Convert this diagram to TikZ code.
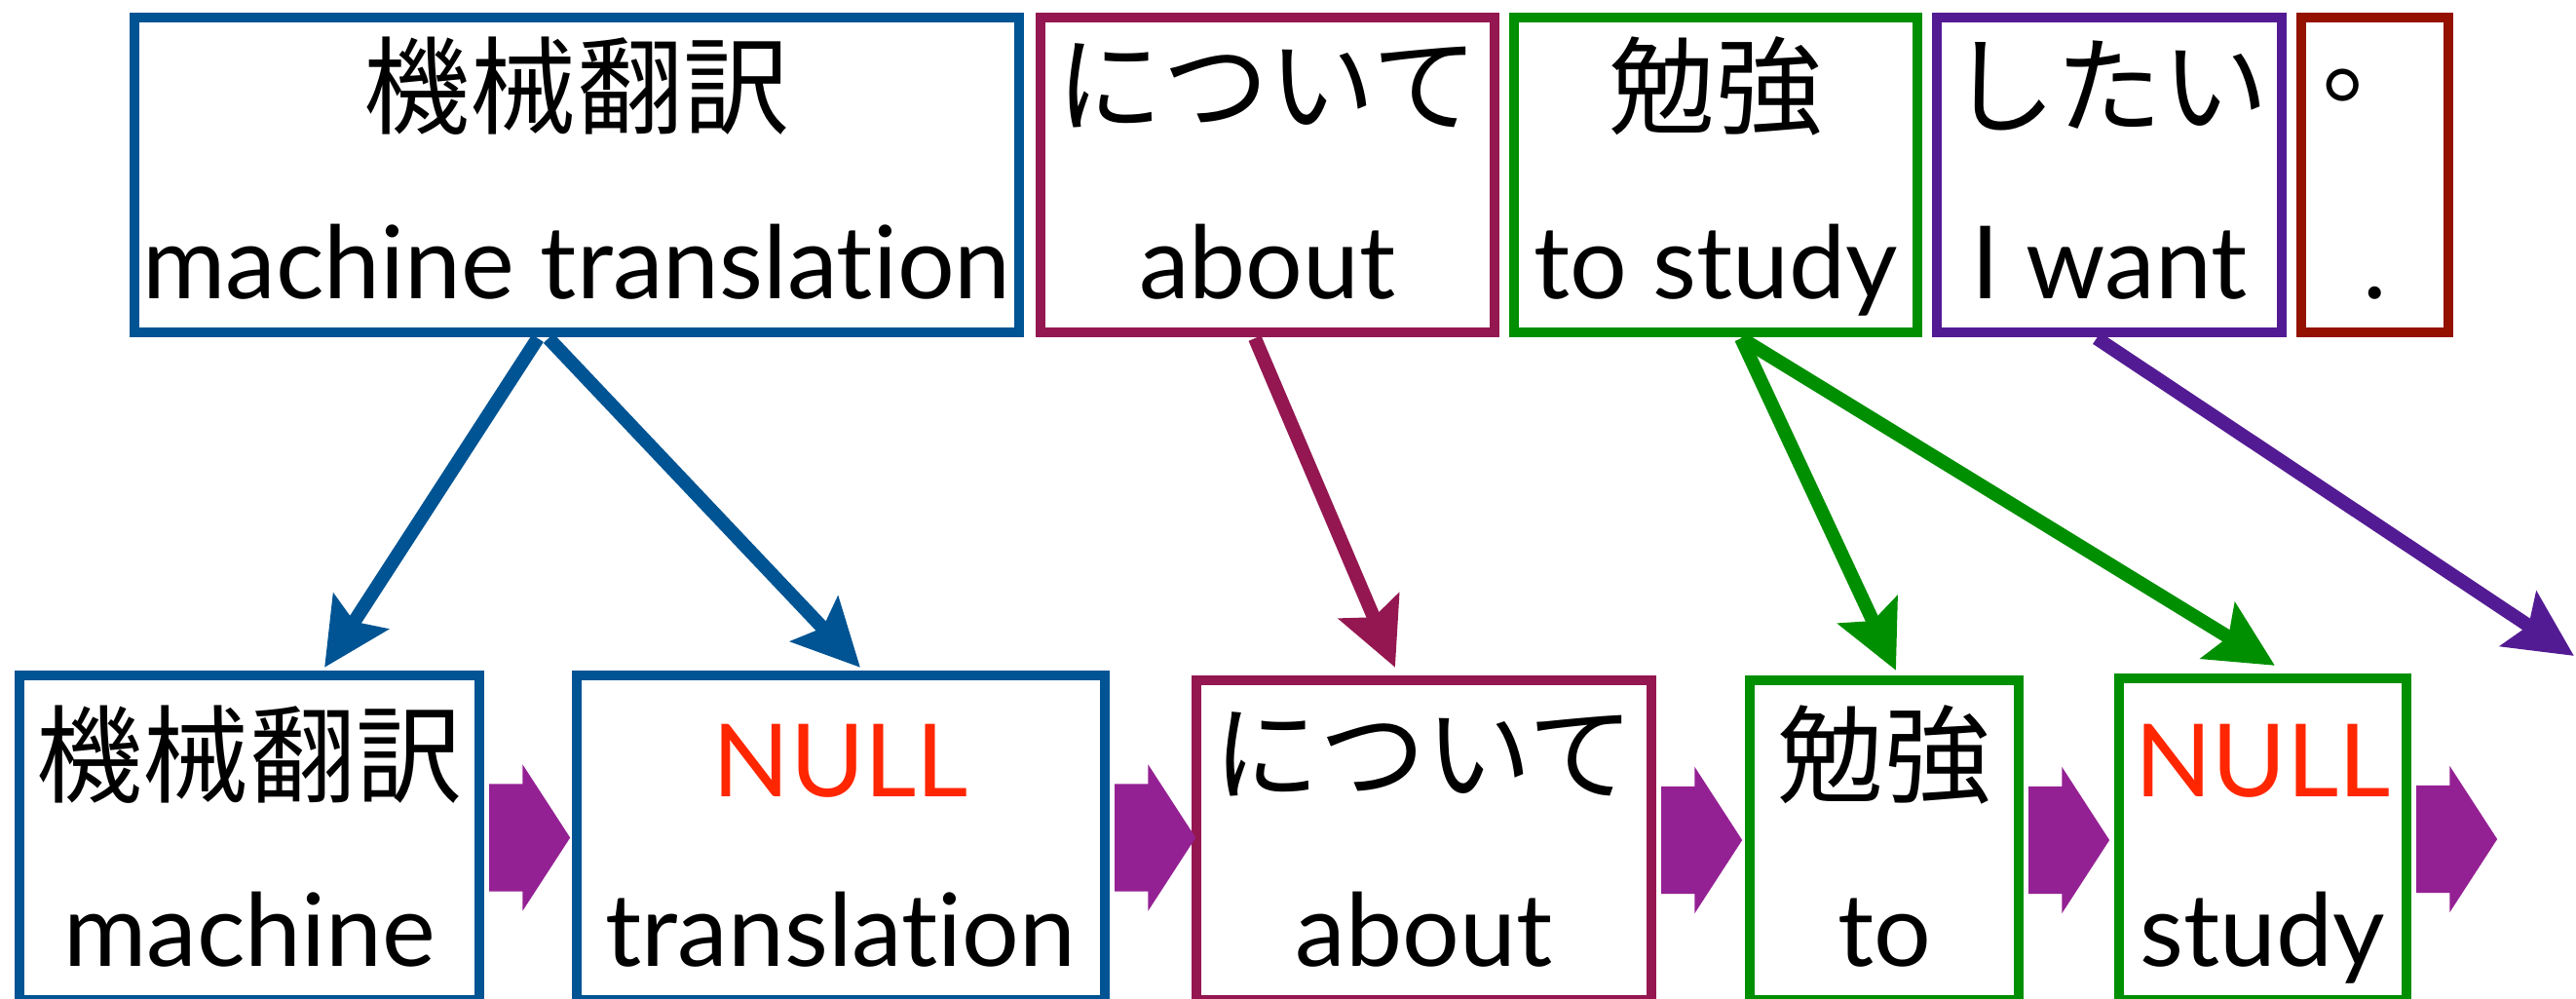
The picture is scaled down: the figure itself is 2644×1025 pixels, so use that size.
\documentclass[tikz,border=0pt]{standalone}
\usepackage{fontspec}
\setmainfont{Lato}[Ligatures={NoCommon,NoRare,NoContextual}]
\newfontfamily\jpfont{Noto Sans CJK JP}
\usetikzlibrary{arrows.meta, positioning, shapes.arrows}
\definecolor{cocean}{HTML}{005493}
\definecolor{cmaroon}{HTML}{941751}
\definecolor{cclover}{HTML}{008F00}
\definecolor{cgrape}{HTML}{531B93}
\definecolor{ccayenne}{HTML}{941100}
\definecolor{cplum}{HTML}{942193}
\definecolor{cnull}{HTML}{FF2600}
\tikzset{
  every picture/.style={line width=0.1cm},
  wordbox/.style={draw=#1, rectangle, inner sep=0pt, outer sep=0pt, line width=0.1cm},
  jp/.style={font=\jpfont\fontsize{31}{31}\selectfont, inner sep=0pt},
  en/.style={font=\fontsize{29.5}{30}\selectfont, inner sep=0pt, anchor=base},
  nullword/.style={en, text=cnull},
  link/.style={-{Stealth[length=0.68cm, width=0.66cm, inset=0.12cm]}, draw=#1, line width=0.14cm},
  chev/.style={single arrow, fill=cplum, draw=none, inner xsep=0pt, inner ysep=0.5cm, outer sep=0pt,
    minimum height=0.83cm, single arrow head extend=0.2cm,
    single arrow tip angle=114, anchor=tail},
}

\begin{document}
\begin{tikzpicture}[x=0.01cm, y=-0.01cm]
  \useasboundingbox (0,0) rectangle (2644,1025);

  % source sentence
  \node[wordbox=cocean,   minimum width=9.08cm, minimum height=3.23cm] (t1) at (592,179.5) {};
  \node[wordbox=cmaroon,  minimum width=4.66cm, minimum height=3.23cm] (t2) at (1301,179.5) {};
  \node[wordbox=cclover,  minimum width=4.14cm, minimum height=3.23cm] (t3) at (1761,179.5) {};
  \node[wordbox=cgrape,   minimum width=3.54cm, minimum height=3.23cm] (t4) at (2165,179.5) {};
  \node[wordbox=ccayenne, minimum width=1.51cm, minimum height=3.23cm] (t5) at (2437.5,179.5) {};
  \foreach \n/\j/\e in {t1/機械翻訳/machine translation, t2/について/about, t3/勉強/to study, t4/したい/I want, t5/。/.} {
    \node[jp] (\n j) at (\n |- 0,88) {\j};
    \node[en] (\n e) at (\n |- 0,307) {\e};
  }

  % reordered target side
  \node[wordbox=cocean,  minimum width=4.72cm, minimum height=3.33cm] (b1) at (256,859.5) {};
  \node[wordbox=cocean,  minimum width=5.42cm, minimum height=3.33cm] (b2) at (863,859.5) {};
  \node[wordbox=cmaroon, minimum width=4.67cm, minimum height=3.28cm] (b3) at (1461.5,862) {};
  \node[wordbox=cclover, minimum width=2.76cm, minimum height=3.28cm] (b4) at (1934,862) {};
  \node[wordbox=cclover, minimum width=2.95cm, minimum height=3.30cm] (b5) at (2322.5,861) {};
  \node[jp] (b1j) at (b1 |- 0,774) {機械翻訳};
  \node[en] (b1e) at (b1 |- 0,992) {machine};
  \node[nullword] (b2n) at (b2 |- 0,818) {NULL};
  \node[en] (b2e) at (b2 |- 0,992) {translation};
  \node[jp] (b3j) at (b3 |- 0,774) {について};
  \node[en] (b3e) at (b3 |- 0,992) {about};
  \node[jp] (b4j) at (b4 |- 0,774) {勉強};
  \node[en] (b4e) at (b4 |- 0,992) {to};
  \node[nullword] (b5n) at (b5 |- 0,818) {NULL};
  \node[en] (b5e) at (b5 |- 0,992) {study};

  % order arrows
  \foreach \n in {b1,b2,b3,b4,b5}
    \node[chev] (\n c) at ([xshift=0.1cm]\n.east) {};

  % alignment links
  \coordinate (out) at (2642,673);
  \draw[link=cocean]  ([xshift=-0.40cm,yshift=-0.06cm]t1.south) -- ([xshift=0.77cm,yshift=0.08cm]b1.north);
  \draw[link=cocean]  ([xshift=-0.29cm,yshift=-0.06cm]t1.south) -- ([xshift=0.20cm,yshift=0.08cm]b2.north);
  \draw[link=cmaroon] ([xshift=-0.13cm,yshift=-0.06cm]t2.south) -- ([xshift=-0.295cm,yshift=0.13cm]b3.north);
  \draw[link=cclover] ([xshift=0.26cm,yshift=-0.06cm]t3.south) -- ([xshift=0.12cm,yshift=0.10cm]b4.north);
  \draw[link=cclover] ([xshift=0.26cm,yshift=-0.06cm]t3.south) -- ([xshift=0.125cm,yshift=0.13cm]b5.north);
  \draw[link=cgrape]  ([xshift=-0.13cm,yshift=-0.06cm]t4.south) -- (out);
\end{tikzpicture}
\end{document}
